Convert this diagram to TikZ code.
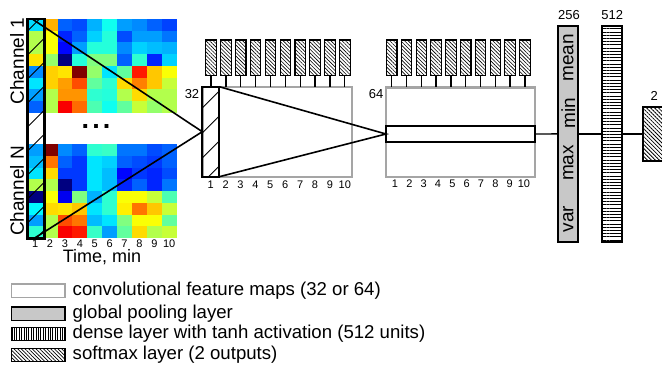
\documentclass[tikz,border=0pt]{standalone}
\usepackage{fontspec}
\setmainfont{Liberation Sans}
\usetikzlibrary{patterns.meta}
\definecolor{poolgray}{RGB}{200,200,200}
\definecolor{mapgray}{RGB}{165,165,165}
\tikzset{
  rectnode/.style={anchor=north west, inner sep=0pt, outer sep=0pt},
  graybox/.style={rectnode, draw=mapgray, line width=2.4pt, fill=white},
  blkbox/.style={rectnode, draw=black, line width=2pt},
  smallhatch/.style={anchor=north, inner sep=0pt, outer sep=0pt, draw=black, line width=1.1pt,
     minimum width=10.5pt, minimum height=35.5pt, pattern={Lines[angle=-45,distance=2.6pt,line width=0.6pt]}},
  conn/.style={draw=black, line width=1.3pt},
  tri/.style={draw=black, line width=1.6pt},
  numlab/.style={inner sep=0pt, font=\fontsize{11}{11}\selectfont},
  sizelab/.style={inner sep=0pt, font=\fontsize{13}{13}\selectfont},
  biglab/.style={inner sep=0pt, font=\fontsize{19}{19}\selectfont},
  leglab/.style={anchor=west, inner sep=0pt, font=\fontsize{18.6}{18.6}\selectfont},
  legbox/.style={rectnode, minimum width=53.3pt, minimum height=13.3pt, line width=1.5pt},
}
\begin{document}
\begin{tikzpicture}[x=1pt,y=-1pt]
\useasboundingbox (0,0) rectangle (662,368);

% ---------- heat maps ----------
\foreach \yy/\vals in {19/{{0.34,0.70,0.22,0.20,0.30,0.39,0.28,0.26,0.22,0.19},{0.55,0.62,0.16,0.22,0.33,0.41,0.20,0.28,0.28,0.24},{0.55,0.62,0.13,0.28,0.41,0.41,0.26,0.33,0.31,0.30},{0.65,0.52,0.00,0.41,0.50,0.50,0.22,0.42,0.16,0.33},{0.26,0.67,0.65,1.00,0.52,0.35,0.47,0.85,0.68,0.62},{0.35,0.67,0.72,0.80,0.47,0.42,0.66,0.75,0.68,0.57},{0.28,0.55,0.73,0.73,0.42,0.41,0.55,0.66,0.55,0.55},{0.22,0.55,0.88,0.77,0.45,0.39,0.47,0.57,0.52,0.55}},
  144.3/{{0.28,1.00,0.26,0.22,0.42,0.43,0.24,0.24,0.20,0.22},{0.31,0.76,0.22,0.18,0.35,0.33,0.22,0.20,0.18,0.22},{0.35,0.66,0.18,0.18,0.35,0.31,0.13,0.18,0.16,0.20},{0.55,0.55,0.00,0.18,0.35,0.31,0.16,0.22,0.16,0.24},{0.00,0.62,0.11,0.50,0.30,0.42,0.62,0.62,0.57,0.45},{0.37,0.66,0.65,0.68,0.35,0.42,0.64,0.76,0.68,0.57},{0.28,0.55,0.80,0.76,0.31,0.35,0.50,0.62,0.62,0.47},{0.42,0.55,0.88,0.85,0.43,0.28,0.47,0.66,0.55,0.57}}}{
  \foreach \row [count=\r from 0] in \vals {
    \foreach \v [count=\c from 0] in \row {
      \pgfmathsetmacro\cR{max(0,min(1,1.5-abs(4*\v-3)))}
      \pgfmathsetmacro\cG{max(0,min(1,1.5-abs(4*\v-2)))}
      \pgfmathsetmacro\cB{max(0,min(1,1.5-abs(4*\v-1)))}
      \definecolor{cellc}{rgb}{\cR,\cG,\cB}
      \fill[cellc] ({27.7+14.9*\c},{\yy+11.72*\r}) rectangle ++(15.1,11.92);
    }
  }
}
% hatched first column over the heat maps
\begin{scope}
  \clip (27.7,19) rectangle (44.3,238.3);
  \foreach \k in {-1,...,9} \draw[line width=0.9pt] (27.7,{30.7+24*\k}) -- ++(16.6,-16.6);
\end{scope}
\node[blkbox, line width=2.5pt, minimum width=16.6pt, minimum height=219.3pt] (hcol) at (27.7,19) {};
\node[inner sep=0pt, font=\fontsize{27}{27}\selectfont\bfseries] (dots) at (96,126.5) {.\hspace{3pt}.\hspace{3pt}.};
\node[biglab, rotate=90] (ch1) at (17,61) {Channel 1};
\node[biglab, rotate=90] (chN) at (17,191) {Channel N};
\foreach \i in {1,...,10} \node[numlab] (hx\i) at ({27.7+14.9*(\i-0.5)},243.5) {\i};
\node[inner sep=0pt, font=\fontsize{18}{18}\selectfont] (time) at (102,257) {Time, min};

% ---------- convolutional layer 1 ----------
\node[graybox, minimum width=149.4pt, minimum height=90pt] (conv1) at (202.3,86.7) {};
\begin{scope}
  \clip (202.3,86.7) rectangle (219.3,176.7);
  \foreach \k in {-1,...,4} \draw[line width=0.9pt] (202.3,{108+25*\k}) -- ++(17,-17);
\end{scope}
\node[blkbox, minimum width=17pt, minimum height=90pt] (c1col) at (202.3,86.7) {};
\coordinate (htop) at (33,19.5);
\coordinate (hbot) at (35,237.8);
\draw[tri] (htop) -- (c1col.west) -- (hbot);
\foreach \i in {1,...,10} {
  \node[smallhatch] (ta\i) at ({211+14.87*(\i-1)},40) {};
  \draw[conn] (ta\i.south) -- (ta\i.south |- conv1.north);
  \node[numlab] (ax\i) at ({210.7+14.9*(\i-1)},185) {\i};
}
\node[sizelab] (n32) at (192,94) {32};

% ---------- convolutional layer 2 ----------
\node[graybox, minimum width=149pt, minimum height=89.4pt] (conv2) at (386,87.3) {};
\node[blkbox, fill=white, minimum width=149pt, minimum height=16.6pt] (c2row) at (386,125.7) {};
\draw[tri] (c1col.north east) -- (c2row.west) -- (c1col.south east);
\foreach \i in {1,...,10} {
  \node[smallhatch] (tb\i) at ({391.7+14.8*(\i-1)},40) {};
  \draw[conn] (tb\i.south) -- (tb\i.south |- conv2.north);
  \node[numlab] (bx\i) at ({395+14.33*(\i-1)},183.5) {\i};
}
\node[sizelab] (n64) at (376,94) {64};

% ---------- pooling, dense, softmax ----------
\node[blkbox, fill=poolgray, minimum width=20pt, minimum height=215.7pt] (pool) at (558.3,26) {};
\node[biglab, rotate=90] (pmean) at (568.3,58) {mean};
\node[biglab, rotate=90] (pmin) at (568.3,113) {min};
\node[biglab, rotate=90] (pmax) at (568.3,163) {max};
\node[biglab, rotate=90] (pvar) at (568.3,219) {var};
\node[sizelab] (n256) at (569,15) {256};
\node[blkbox, pattern={Lines[angle=0,distance=3.2pt,line width=0.8pt]}, minimum width=19.4pt, minimum height=215.7pt] (dense) at (602.3,26) {};
\node[sizelab] (n512) at (612.3,15) {512};
\node[blkbox, pattern={Lines[angle=-45,distance=2.8pt,line width=0.8pt]}, minimum width=40pt, minimum height=54.3pt] (soft) at (643.3,106.7) {};
\node[sizelab] (n2) at (654.3,96) {2};
\draw[conn] (c2row.east) -- (pool.west);
\draw[conn] (pool.east) -- (dense.west);
\draw[conn] (dense.east) -- (soft.west);

% ---------- legend ----------
\node[legbox, draw=mapgray, fill=white] (lg1) at (11.7,284) {};
\node[legbox, draw=black, fill=poolgray] (lg2) at (11.7,307.2) {};
\node[legbox, draw=black, pattern={Lines[angle=90,distance=2.4pt,line width=0.7pt]}] (lg3) at (11.7,327.3) {};
\node[legbox, draw=black, pattern={Lines[angle=-45,distance=2.6pt,line width=0.7pt]}] (lg4) at (11.7,348.3) {};
\node[leglab] (lt1) at (72.5,291) {convolutional feature maps (32 or 64)};
\node[leglab] (lt2) at (72.5,313.5) {global pooling layer};
\node[leglab] (lt3) at (72.5,334) {dense layer with tanh activation (512 units)};
\node[leglab] (lt4) at (72.5,355) {softmax layer (2 outputs)};
\end{tikzpicture}
\end{document}
